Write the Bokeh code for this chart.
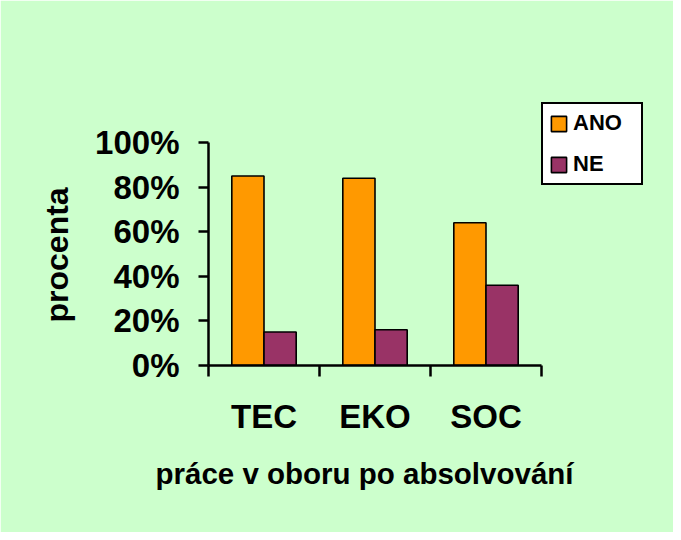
from bokeh.plotting import figure
from bokeh.models import ColumnDataSource, Range1d, FixedTicker, Title
from bokeh.transform import dodge
from bokeh.embed import file_html
from bokeh.resources import INLINE

categories = ["TEC", "EKO", "SOC"]
ano = [85, 84, 64]
ne = [15, 16, 36]
y_ticks = [0, 20, 40, 60, 80, 100]
y_tick_labels = [f"{t}%" for t in y_ticks]
series_names = ["ANO", "NE"]
x_title = "práce v oboru po absolvování"
y_title = "procenta"

BG = "#CCFFCC"
FONT = "Liberation Sans"

# layout in pixels (figure coordinates)
W, H = 673, 532
AX_L, AX_R, AX_T, AX_B = 208, 541, 142, 365      # axes box
FR_R, FR_T = 650, 70                              # frame extended to hold legend
n = len(categories)
x_end = n * (FR_R - AX_L) / (AX_R - AX_L)
y_end = y_ticks[-1] * (AX_B - FR_T) / (AX_B - AX_T)

centers = [i + 0.5 for i in range(n)]
bounds = list(range(n + 1))
source = ColumnDataSource(dict(x=centers, ano=ano, ne=ne, cat=categories))

p = figure(width=W, height=H, output_backend="svg", toolbar_location=None,
           x_range=Range1d(0, x_end), y_range=Range1d(0, y_end),
           min_border_left=AX_L, min_border_right=W - FR_R, min_border_top=FR_T,
           min_border_bottom=H - AX_B)
p.background_fill_color = BG
p.border_fill_color = BG
p.outline_line_color = BG
p.outline_line_width = 2
p.grid.visible = False

bw = 0.29
p.vbar(x=dodge("x", -bw / 2, range=p.x_range), top="ano", width=bw, source=source,
       fill_color="#FF9900", line_color="black", line_width=1.6, legend_label=series_names[0])
p.vbar(x=dodge("x", bw / 2, range=p.x_range), top="ne", width=bw, source=source,
       fill_color="#993366", line_color="black", line_width=1.6, legend_label=series_names[1])

# y axis
ya = p.yaxis[0]
ya.bounds = (0, y_ticks[-1])
ya.ticker = FixedTicker(ticks=y_ticks)
ya.major_label_overrides = {t: l for t, l in zip(y_ticks, y_tick_labels)}
ya.minor_tick_line_color = None
ya.major_tick_in = 0
ya.major_tick_out = 10
ya.major_tick_line_width = 2.5
ya.major_tick_line_color = "black"
ya.axis_line_width = 2.5
ya.axis_line_color = "black"
ya.major_label_standoff = 19
ya.major_label_text_font = FONT
ya.major_label_text_font_style = "bold"
ya.major_label_text_font_size = "33px"
ya.major_label_text_color = "black"

ty = Title(text=y_title, align="left", offset=43, text_font=FONT,
           text_font_style="bold", text_font_size="32px", text_color="black",
           standoff=36)
p.add_layout(ty, "left")

# x axis
xa = p.xaxis[0]
xa.bounds = (0, n)
xa.ticker = FixedTicker(ticks=centers, minor_ticks=bounds)
xa.major_label_overrides = {c: l for c, l in zip(centers, categories)}
xa.major_tick_line_color = None
xa.minor_tick_in = 0
xa.minor_tick_out = 11
xa.minor_tick_line_width = 2.5
xa.minor_tick_line_color = "black"
xa.axis_line_width = 2.5
xa.axis_line_color = "black"
xa.major_label_standoff = 21
xa.major_label_text_font = FONT
xa.major_label_text_font_style = "bold"
xa.major_label_text_font_size = "33px"
xa.major_label_text_color = "black"

tx = Title(text=x_title, align="left", offset=-53, text_font=FONT,
           text_font_style="bold", text_font_size="29.5px", text_color="black",
           standoff=35)
p.add_layout(tx, "below")

lg = p.legend[0]
lg.location = (333, 180)
lg.border_line_color = "black"
lg.border_line_alpha = 1
lg.border_line_width = 2
lg.background_fill_color = "white"
lg.background_fill_alpha = 1
lg.glyph_width = 19
lg.glyph_height = 19
lg.label_height = 22
lg.label_width = 62
lg.label_standoff = 5
lg.spacing = 15
lg.padding = 6
lg.margin = 0
lg.label_text_font = FONT
lg.label_text_font_style = "bold"
lg.label_text_font_size = "22px"
lg.label_text_color = "black"

open("out.html", "w").write(file_html(p, INLINE))
